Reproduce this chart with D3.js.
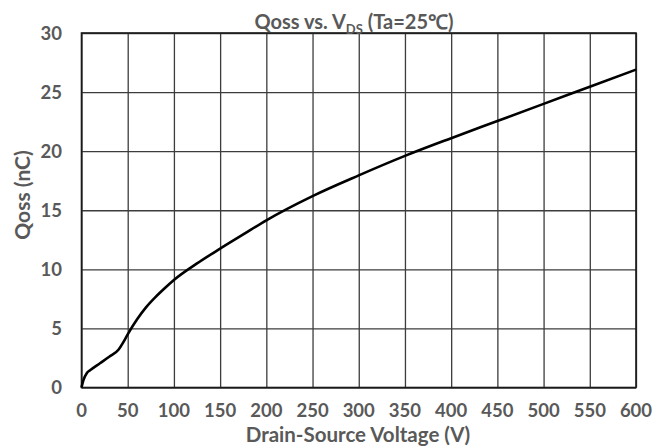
<!DOCTYPE html>
<html>
<head>
<meta charset="utf-8">
<script src="https://cdn.jsdelivr.net/npm/d3@7"></script>
<style>
  html, body { margin: 0; padding: 0; background: #fff; }
  svg text { font-family: Lato, "Open Sans", sans-serif; font-weight: bold; fill: #595959; }
</style>
</head>
<body>
<svg id="chart" width="667" height="446"></svg>
<script>
// Output charge vs. drain-source voltage
const voltage = [0, 2, 6, 10, 20, 30, 40, 45, 50, 60, 70, 80, 90, 100, 125, 150, 175, 200, 250, 300, 350, 400, 450, 500, 550, 600];
const qoss    = [0, 0.6, 1.25, 1.5, 2.05, 2.6, 3.2, 3.8, 4.5, 5.75, 6.8, 7.65, 8.4, 9.1, 10.5, 11.75, 12.95, 14.15, 16.2, 17.95, 19.6, 21.1, 22.55, 24.0, 25.45, 26.9];
const xTicks = [0, 50, 100, 150, 200, 250, 300, 350, 400, 450, 500, 550, 600];
const yTicks = [0, 5, 10, 15, 20, 25, 30];

const svg = d3.select("#chart");
const plotLeft = 81.5, plotRight = 636, plotTop = 33, plotBottom = 387.5;

const x = d3.scaleLinear().domain([0, 600]).range([plotLeft, plotRight]);
const y = d3.scaleLinear().domain([0, 30]).range([plotBottom, plotTop]);

// grid
svg.append("g")
  .attr("transform", `translate(0,${plotBottom})`)
  .call(d3.axisBottom(x).tickValues(xTicks).tickSize(-(plotBottom - plotTop)).tickFormat(""))
  .call(g => g.select(".domain").remove())
  .call(g => g.selectAll("line").attr("stroke", "#3c3c3c").attr("stroke-width", 1.3));

svg.append("g")
  .attr("transform", `translate(${plotLeft},0)`)
  .call(d3.axisLeft(y).tickValues(yTicks).tickSize(-(plotRight - plotLeft)).tickFormat(""))
  .call(g => g.select(".domain").remove())
  .call(g => g.selectAll("line").attr("stroke", "#3c3c3c").attr("stroke-width", 1.3));

// frame
svg.append("rect")
  .attr("x", plotLeft).attr("y", plotTop)
  .attr("width", plotRight - plotLeft).attr("height", plotBottom - plotTop)
  .attr("fill", "none").attr("stroke", "#1a1a1a").attr("stroke-width", 1.6);

// tick labels
svg.append("g").selectAll("text").data(xTicks).join("text")
  .attr("x", d => x(d)).attr("y", 417)
  .attr("text-anchor", "middle")
  .style("font-size", "18.5px")
  .text(d => d);

svg.append("g").selectAll("text").data(yTicks).join("text")
  .attr("x", 62).attr("y", d => y(d) + 6.5)
  .attr("text-anchor", "end")
  .style("font-size", "18.5px")
  .text(d => d);

// curve
const line = d3.line()
  .x((d, i) => x(voltage[i]))
  .y(d => y(d))
  .curve(d3.curveMonotoneX);

svg.append("path")
  .datum(qoss)
  .attr("d", line)
  .attr("fill", "none")
  .attr("stroke", "#000")
  .attr("stroke-width", 2.6)
  .attr("stroke-linejoin", "round");

// titles
const title = svg.append("text")
  .attr("x", 354).attr("y", 29)
  .attr("text-anchor", "middle")
  .style("font-size", "20px");
title.append("tspan").text("Qoss vs. V");
title.append("tspan").attr("dy", 5).style("font-size", "13px").text("DS");
title.append("tspan").attr("dy", -5).text(" (Ta=25℃)");

svg.append("text")
  .attr("x", 358).attr("y", 441.5)
  .attr("text-anchor", "middle")
  .style("font-size", "20.5px")
  .text("Drain-Source Voltage (V)");

svg.append("text")
  .attr("transform", "translate(30,195) rotate(-90)")
  .attr("text-anchor", "middle")
  .style("font-size", "21px")
  .text("Qoss (nC)");
</script>
</body>
</html>
